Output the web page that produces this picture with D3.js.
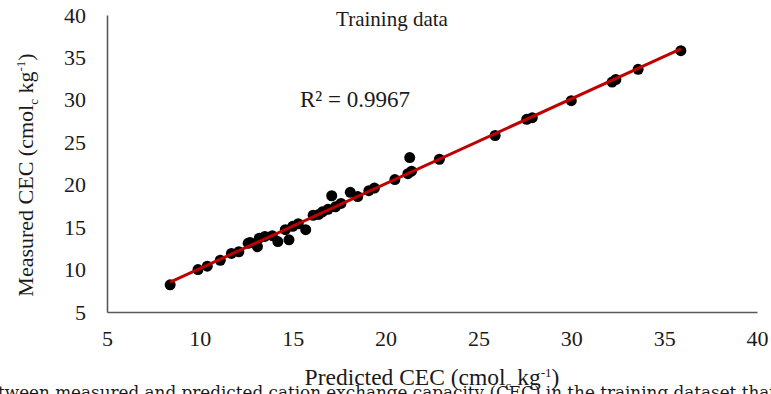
<!DOCTYPE html>
<html>
<head>
<meta charset="utf-8">
<script src="https://cdn.jsdelivr.net/npm/d3@7"></script>
<style>
  body { margin: 0; background: #fff; }
  svg { display: block; }
  text { font-family: "Liberation Serif", "Times New Roman", serif; fill: #1a1a1a; }
</style>
</head>
<body>
<div id="chart"></div>
<script>
// Predicted vs measured CEC, training data
const predicted = [8.4, 9.9, 10.4, 11.1, 11.7, 12.1, 12.6, 12.7, 13.1, 13.2, 13.5, 13.9, 14.2, 14.6, 14.8,
  15.0, 15.3, 15.7, 16.1, 16.4, 16.6, 16.9, 17.1, 17.3, 17.6, 18.1, 18.5, 19.1, 19.4,
  20.5, 21.2, 21.3, 21.4, 22.9, 25.9, 27.6, 27.9, 30.0, 32.2, 32.4, 33.6, 35.9];
const measured = [8.2, 10.0, 10.4, 11.1, 11.9, 12.1, 13.1, 13.2, 12.7, 13.7, 13.9, 14.0, 13.3, 14.7, 13.5,
  15.1, 15.4, 14.7, 16.4, 16.5, 16.8, 17.1, 18.7, 17.4, 17.8, 19.1, 18.6, 19.3, 19.6,
  20.6, 21.3, 23.2, 21.6, 23.0, 25.8, 27.7, 27.9, 29.9, 32.1, 32.4, 33.6, 35.8];
const xTicks = [5, 10, 15, 20, 25, 30, 35, 40];
const yTicks = [5, 10, 15, 20, 25, 30, 35, 40];
const r2Label = "R² = 0.9967";
const chartTitle = "Training data";
const caption = "tween measured and predicted cation exchange capacity (CEC) in the training dataset that";

const width = 771, height = 394;
const margin = { left: 107, right: 14, top: 15, bottom: 82 };

const svg = d3.select("#chart").append("svg")
  .attr("width", width)
  .attr("height", height);

const x = d3.scaleLinear().domain([5, 40]).range([margin.left, width - margin.right]);
const y = d3.scaleLinear().domain([5, 40]).range([height - margin.bottom, margin.top]);

// axes (no tick marks, just lines + labels)
const xAxis = svg.append("g")
  .attr("transform", `translate(0,${y(5)})`)
  .call(d3.axisBottom(x).tickValues(xTicks).tickSize(0).tickPadding(18));
const yAxis = svg.append("g")
  .attr("transform", `translate(${x(5)},0)`)
  .call(d3.axisLeft(y).tickValues(yTicks).tickSize(0).tickPadding(21));

[xAxis, yAxis].forEach(a => {
  a.select(".domain").attr("stroke", "#595959").attr("stroke-width", 1.6);
  a.selectAll("text")
    .style("font-family", "'Liberation Serif', serif")
    .style("font-size", "22px")
    .attr("fill", "#1a1a1a");
});

// least squares trendline
const n = predicted.length;
const mx = d3.mean(predicted), my = d3.mean(measured);
let sxy = 0, sxx = 0;
for (let i = 0; i < n; i++) {
  sxy += (predicted[i] - mx) * (measured[i] - my);
  sxx += (predicted[i] - mx) ** 2;
}
const slope = sxy / sxx;
const intercept = my - slope * mx;
const [x0, x1] = d3.extent(predicted);

// points
const pts = predicted.map((p, i) => ({ p, m: measured[i] }));
svg.append("g").selectAll("circle")
  .data(pts)
  .enter()
  .append("circle")
  .attr("cx", d => x(d.p))
  .attr("cy", d => y(d.m))
  .attr("r", 5.5)
  .attr("fill", "#000");

svg.append("line")
  .attr("x1", x(x0)).attr("y1", y(slope * x0 + intercept))
  .attr("x2", x(x1)).attr("y2", y(slope * x1 + intercept))
  .attr("stroke", "#c00000")
  .attr("stroke-width", 3);

// title and R²
svg.append("text")
  .attr("x", 392).attr("y", 26)
  .attr("text-anchor", "middle")
  .style("font-size", "21px")
  .text(chartTitle);

svg.append("text")
  .attr("x", 300).attr("y", 107)
  .style("font-size", "23px")
  .text(r2Label);

// axis titles
function unitTitle(sel, label) {
  sel.append("tspan").text(label + " (cmol");
  sel.append("tspan").attr("dy", 5).style("font-size", "13px").text("c");
  sel.append("tspan").attr("dy", -5).text(" kg");
  sel.append("tspan").attr("dy", -8).style("font-size", "13px").text("-1");
  sel.append("tspan").attr("dy", 8).text(")");
}

const xt = svg.append("text")
  .attr("x", 432).attr("y", 385)
  .attr("text-anchor", "middle")
  .style("font-size", "23.5px");
unitTitle(xt, "Predicted CEC");

const yt = svg.append("text")
  .attr("transform", "translate(33,175) rotate(-90)")
  .attr("text-anchor", "middle")
  .style("font-size", "22px");
unitTitle(yt, "Measured CEC");

// cut-off caption line at the bottom
svg.append("text")
  .attr("x", -2).attr("y", 398)
  .style("font-family", "'DejaVu Serif', serif")
  .style("font-size", "17px")
  .attr("textLength", 778)
  .attr("lengthAdjust", "spacingAndGlyphs")
  .text(caption);
</script>
</body>
</html>
